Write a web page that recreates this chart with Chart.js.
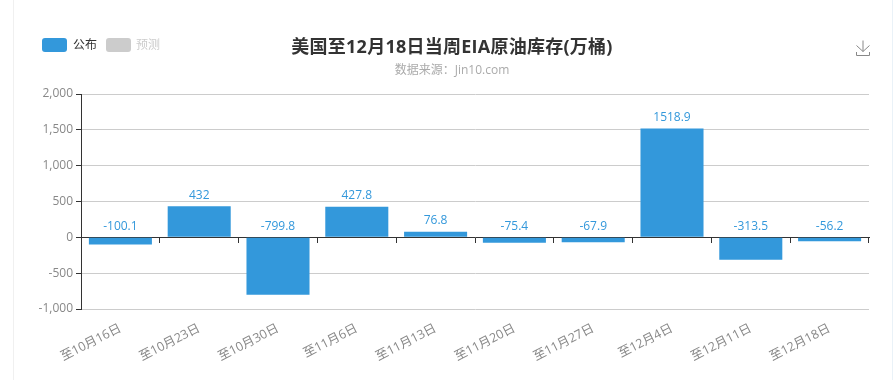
<!DOCTYPE html>
<html>
<head>
<meta charset="utf-8">
<script src="https://cdn.jsdelivr.net/npm/chart.js@4"></script>
<style>
    html, body { margin: 0; padding: 0; background: #fff; }
    body { font-family: "Open Sans", "Noto Sans CJK SC", sans-serif; }
    #wrap { position: relative; width: 894px; height: 380px; overflow: hidden; }
    #wrap canvas { position: absolute; left: 0; top: 0; }
    .frame { position: absolute; top: 0; width: 1px; height: 380px; }
    .swatch { position: absolute; top: 38px; width: 25px; height: 14px; border-radius: 3px; }
    .leg { position: absolute; top: 36px; font-size: 12px; line-height: 17px; }
    #title { position: absolute; left: 252px; width: 400px; top: 33px; text-align: center; font-size: 18px; line-height: 26px; font-weight: bold; letter-spacing: 0.25px; color: #333; }
    #subtitle { position: absolute; left: 252px; width: 400px; top: 61px; text-align: center; font-size: 12px; line-height: 18px; color: #aaa; }
    #save { position: absolute; left: 855px; top: 40px; }
</style>
</head>
<body>
<div id="wrap">
    <canvas id="graphique" width="894" height="380"></canvas>
    <div class="frame" style="left:13px;background:#f0f0f0"></div>
    <div class="frame" style="left:892px;background:#eaf2f8"></div>
    <div class="swatch" style="left:42px;background:#3398DB"></div>
    <div class="leg" style="left:73px;color:#333">公布</div>
    <div class="swatch" style="left:106px;background:#ccc"></div>
    <div class="leg" style="left:136px;color:#ccc">预测</div>
    <div id="title">美国至12月18日当周EIA原油库存(万桶)</div>
    <div id="subtitle">数据来源：Jin10.com</div>
    <svg id="save" width="16" height="17" viewBox="0 0 16 17" fill="none" stroke="#888" stroke-width="1">
        <path d="M8 0.5V11.5M1.5 5.5L8 11.5L14.5 5.5M1.5 12V15.5H14.5V12"/>
    </svg>
</div>
<script>
    // DONNEES DU GRAPHIQUE
    const categories = ["至10月16日", "至10月23日", "至10月30日", "至11月6日", "至11月13日", "至11月20日", "至11月27日", "至12月4日", "至12月11日", "至12月18日"];
    const publishedValues = [-100.1, 432, -799.8, 427.8, 76.8, -75.4, -67.9, 1518.9, -313.5, -56.2];

    const fontFamily = '"Open Sans", "Noto Sans CJK SC", sans-serif';

    // VALEUR AU DESSUS DE CHAQUE BARRE (OU DE LA LIGNE ZERO SI NEGATIF)
    const barLabels = {
        id: 'barLabels',
        afterDatasetsDraw(chart) {
            const ctx = chart.ctx;
            const yScale = chart.scales.y;
            ctx.save();
            ctx.font = '12px ' + fontFamily;
            ctx.fillStyle = '#3398DB';
            ctx.textAlign = 'center';
            ctx.textBaseline = 'bottom';
            chart.getDatasetMeta(0).data.forEach(function (bar, i) {
                const value = publishedValues[i];
                ctx.fillText(String(value), bar.x, yScale.getPixelForValue(Math.max(value, 0)) - 5);
            });
            ctx.restore();
        }
    };

    new Chart(document.getElementById('graphique').getContext('2d'), {
        type: 'bar',
        data: {
            labels: categories,
            datasets: [{
                label: '公布',
                data: publishedValues,
                backgroundColor: '#3398DB',
                barPercentage: 0.8,
                categoryPercentage: 1
            }]
        },
        options: {
            responsive: false,
            animation: false,
            layout: { padding: { top: 94, right: 25, bottom: 0, left: 0 } },
            plugins: { legend: { display: false }, title: { display: false }, tooltip: { enabled: false } },
            scales: {
                x: {
                    position: 'bottom',
                    grid: { display: false },
                    border: { display: false },
                    afterFit(scale) { scale.height = 71; },
                    ticks: {
                        color: '#888',
                        font: { family: fontFamily, size: 12.5 },
                        autoSkip: false,
                        minRotation: 27,
                        maxRotation: 27,
                        padding: 4
                    }
                },
                // AXE DU ZERO : LIGNE ET TRAITS SEULEMENT
                xZero: {
                    type: 'category',
                    labels: categories,
                    position: { y: 0 },
                    border: { color: '#333', width: 1 },
                    grid: { drawOnChartArea: false, offset: true, tickColor: '#333', tickLength: 5 },
                    ticks: { display: false }
                },
                y: {
                    min: -1000,
                    max: 2000,
                    afterFit(scale) { scale.width = 81; },
                    border: { color: '#333', width: 1 },
                    grid: { color: '#ccc', tickColor: '#333', tickLength: 5 },
                    ticks: {
                        stepSize: 500,
                        color: '#888',
                        padding: 3,
                        font: { family: fontFamily, size: 12 },
                        callback: function (value) { return value.toLocaleString('en-US'); }
                    }
                }
            }
        },
        plugins: [barLabels]
    });
</script>
</body>
</html>
